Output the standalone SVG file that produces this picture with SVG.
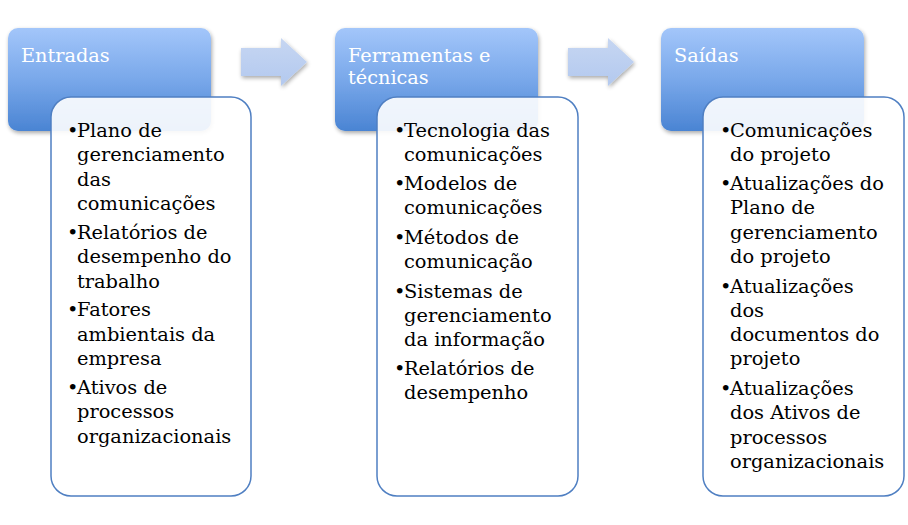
<svg xmlns="http://www.w3.org/2000/svg" width="908" height="525" viewBox="0 0 908 525">
<defs>
<linearGradient id="hg" x1="0" y1="0" x2="0" y2="1">
<stop offset="0" stop-color="#a3c6fa"/>
<stop offset="0.5" stop-color="#79a8ea"/>
<stop offset="1" stop-color="#4a84d3"/>
</linearGradient>
<linearGradient id="ag" x1="0" y1="0" x2="0" y2="1">
<stop offset="0" stop-color="#c6d6f2"/>
<stop offset="1" stop-color="#b3c9ef"/>
</linearGradient>
<filter id="sh" x="-10%" y="-10%" width="125%" height="130%">
<feGaussianBlur in="SourceAlpha" stdDeviation="2"/>
<feOffset dx="1" dy="2"/>
<feComponentTransfer><feFuncA type="linear" slope="0.35"/></feComponentTransfer>
<feMerge><feMergeNode/><feMergeNode in="SourceGraphic"/></feMerge>
</filter>
</defs>
<style>
.hdr{fill:url(#hg);filter:url(#sh)}
.card{fill:#ffffff;fill-opacity:0.9;stroke:#4f7fc2;stroke-width:1.5}
.arr{fill:url(#ag);filter:url(#sh)}
.ht{font-family:"DejaVu Serif","Liberation Serif",serif;font-size:19.3px;fill:#ffffff}
.bt{font-family:"DejaVu Serif","Liberation Serif",serif;font-size:19.4px;fill:#000000}
</style>
<g id="connectors">
<path class="arr" d="M241,48 H281 V38 L307,62 L281,86 V76 H241 Z"/>
<path class="arr" d="M568,48 H608 V38 L634,62 L608,86 V76 H568 Z"/>
</g>
<g id="entradas">
<rect class="hdr" x="8" y="28" width="203" height="103" rx="10"/>
<text class="ht" x="21" y="62">Entradas</text>
<rect class="card" x="51" y="97" width="200" height="399" rx="20"/>
<text class="bt">
<tspan x="67" y="137">•</tspan><tspan x="77" y="137">Plano de</tspan>
<tspan x="77" y="161">gerenciamento</tspan>
<tspan x="77" y="186">das</tspan>
<tspan x="77" y="210">comunicações</tspan>
<tspan x="67" y="239">•</tspan><tspan x="77" y="239">Relatórios de</tspan>
<tspan x="77" y="263">desempenho do</tspan>
<tspan x="77" y="288">trabalho</tspan>
<tspan x="67" y="316">•</tspan><tspan x="77" y="316">Fatores</tspan>
<tspan x="77" y="341">ambientais da</tspan>
<tspan x="77" y="365">empresa</tspan>
<tspan x="67" y="394">•</tspan><tspan x="77" y="394">Ativos de</tspan>
<tspan x="77" y="418">processos</tspan>
<tspan x="77" y="443">organizacionais</tspan>
</text>
</g>
<g id="ferramentas">
<rect class="hdr" x="335" y="28" width="203" height="103" rx="10"/>
<text class="ht"><tspan x="348" y="62">Ferramentas e</tspan><tspan x="348" y="84">técnicas</tspan></text>
<rect class="card" x="377" y="97" width="201" height="399" rx="20"/>
<text class="bt">
<tspan x="394" y="137">•</tspan><tspan x="404" y="137">Tecnologia das</tspan>
<tspan x="404" y="161">comunicações</tspan>
<tspan x="394" y="190">•</tspan><tspan x="404" y="190">Modelos de</tspan>
<tspan x="404" y="214">comunicações</tspan>
<tspan x="394" y="244">•</tspan><tspan x="404" y="244">Métodos de</tspan>
<tspan x="404" y="268">comunicação</tspan>
<tspan x="394" y="298">•</tspan><tspan x="404" y="298">Sistemas de</tspan>
<tspan x="404" y="322">gerenciamento</tspan>
<tspan x="404" y="346">da informação</tspan>
<tspan x="394" y="375">•</tspan><tspan x="404" y="375">Relatórios de</tspan>
<tspan x="404" y="399">desempenho</tspan>
</text>
</g>
<g id="saidas">
<rect class="hdr" x="661" y="28" width="203" height="103" rx="10"/>
<text class="ht" x="674" y="62">Saídas</text>
<rect class="card" x="703" y="97" width="201" height="399" rx="20"/>
<text class="bt">
<tspan x="720" y="137">•</tspan><tspan x="730" y="137">Comunicações</tspan>
<tspan x="730" y="161">do projeto</tspan>
<tspan x="720" y="190">•</tspan><tspan x="730" y="190">Atualizações do</tspan>
<tspan x="730" y="214">Plano de</tspan>
<tspan x="730" y="239">gerenciamento</tspan>
<tspan x="730" y="263">do projeto</tspan>
<tspan x="720" y="293">•</tspan><tspan x="730" y="293">Atualizações</tspan>
<tspan x="730" y="317">dos</tspan>
<tspan x="730" y="341">documentos do</tspan>
<tspan x="730" y="365">projeto</tspan>
<tspan x="720" y="395">•</tspan><tspan x="730" y="395">Atualizações</tspan>
<tspan x="730" y="419">dos Ativos de</tspan>
<tspan x="730" y="444">processos</tspan>
<tspan x="730" y="468">organizacionais</tspan>
</text>
</g>
</svg>
